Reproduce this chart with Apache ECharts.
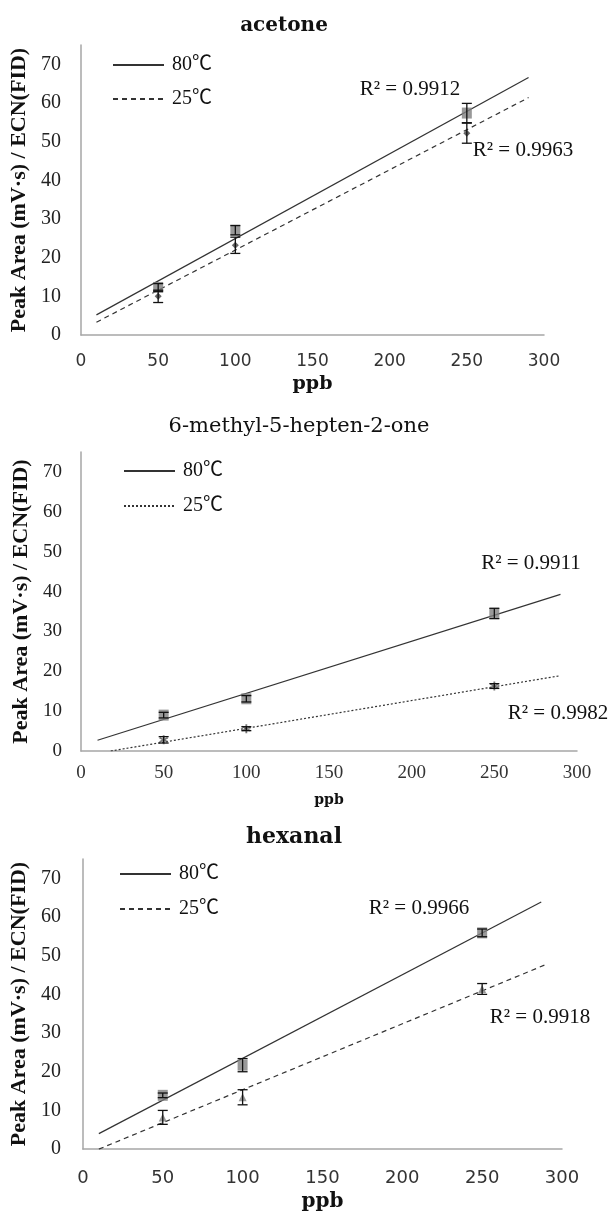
<!DOCTYPE html>
<html>
<head>
<meta charset="utf-8">
<script src="https://cdn.jsdelivr.net/npm/echarts@6/dist/echarts.min.js"></script>
<style>
    body { margin: 0; background: #fff; }
    .panel { position: absolute; left: 0; width: 612px; }
</style>
</head>
<body>
<div id="c1" class="panel" style="top:0;height:400px"></div>
<div id="c2" class="panel" style="top:400px;height:412px"></div>
<div id="c3" class="panel" style="top:812px;height:405px"></div>
<script>
// concentrations (ppb)
var ppb = [50, 100, 250];
var legend_names = ['80℃', '25℃'];

// acetone
var acetone_80 = [12.3, 27.1, 57.4];
var acetone_80_err = [1.0, 1.2, 2.5];
var acetone_25 = [10.0, 23.2, 52.2];
var acetone_25_err = [1.6, 2.1, 2.6];
var acetone_fit_80 = [[10, 5.2], [290, 66.6]];
var acetone_fit_25 = [[10, 3.3], [290, 61.4]];
var acetone_r2 = ['0.9912', '0.9963'];

// 6-methyl-5-hepten-2-one
var mho_80 = [9.0, 13.1, 34.5];
var mho_80_err = [0.7, 0.8, 1.3];
var mho_25 = [2.8, 5.6, 16.3];
var mho_25_err = [0.8, 0.5, 0.6];
var mho_fit_80 = [[10, 2.7], [290, 39.3]];
var mho_fit_25 = [[18, 0], [290, 18.9]];
var mho_r2 = ['0.9911', '0.9982'];

// hexanal
var hexanal_80 = [13.9, 21.7, 55.9];
var hexanal_80_err = [0.6, 1.7, 1.0];
var hexanal_25 = [8.2, 13.4, 41.4];
var hexanal_25_err = [1.8, 1.95, 1.4];
var hexanal_fit_80 = [[10, 4.0], [287, 63.9]];
var hexanal_fit_25 = [[10, 0], [291, 47.9]];
var hexanal_r2 = ['0.9966', '0.9918'];

var SERIF = "'Liberation Serif', 'Noto Sans CJK JP', serif";
var WIDE_SERIF = "'DejaVu Serif', 'Noto Sans CJK JP', serif";
var SANS = "'DejaVu Sans', sans-serif";
var ASTERISK = 'path://M4,0L6,0L6,3.5L9,1.8L10,3.5L7,5L10,6.5L9,8.2L6,6.5L6,10L4,10L4,6.5L1,8.2L0,6.5L3,5L0,3.5L1,1.8L4,3.5Z';

function points(xs, ys) {
    return xs.map(function (x, i) { return [x, ys[i]]; });
}
function bars(xs, ys, errs) {
    return xs.map(function (x, i) { return [x, ys[i] - errs[i], ys[i] + errs[i]]; });
}

function renderErrorBar(params, api) {
    var top = api.coord([api.value(0), api.value(2)]);
    var bottom = api.coord([api.value(0), api.value(1)]);
    var half = 5;
    var style = { stroke: '#111', lineWidth: 1.3 };
    return {
        type: 'group',
        children: [
            { type: 'line', shape: { x1: top[0], y1: top[1], x2: bottom[0], y2: bottom[1] }, style: style },
            { type: 'line', shape: { x1: top[0] - half, y1: top[1], x2: top[0] + half, y2: top[1] }, style: style },
            { type: 'line', shape: { x1: bottom[0] - half, y1: bottom[1], x2: bottom[0] + half, y2: bottom[1] }, style: style }
        ]
    };
}

function create_chart(element_id, c) {
    var chart = echarts.init(document.getElementById(element_id));
    var option = {
        animation: false,
        title: {
            text: c.title,
            left: c.titleX,
            top: c.titleY,
            textAlign: 'center',
            padding: 0,
            textStyle: {
                fontFamily: WIDE_SERIF,
                fontSize: c.titleSize,
                fontWeight: c.titleWeight,
                color: '#111'
            }
        },
        legend: {
            orient: 'vertical',
            left: c.legendX,
            top: c.legendY,
            itemWidth: 51,
            itemHeight: 14,
            itemGap: c.legendGap,
            padding: 0,
            selectedMode: false,
            data: legend_names,
            itemStyle: { opacity: 0 },
            textStyle: { fontFamily: SERIF, fontSize: 20, color: '#111', lineHeight: 18, padding: [0, 0, 0, 3] }
        },
        grid: c.grid,
        xAxis: {
            type: 'value',
            min: 0,
            max: 300,
            interval: 50,
            name: 'ppb',
            nameLocation: 'middle',
            nameGap: c.ppbGap,
            nameTextStyle: { fontFamily: WIDE_SERIF, fontWeight: 'bold', fontSize: c.ppbSize, color: '#111' },
            axisLine: { lineStyle: { color: '#a6a6a6', width: 1.5 } },
            axisTick: { show: false },
            splitLine: { show: false },
            axisLabel: { fontFamily: c.xFont, fontSize: c.xSize, color: '#333', margin: c.xMargin }
        },
        yAxis: {
            type: 'value',
            min: 0,
            max: 75,
            interval: 10,
            name: 'Peak Area (mV·s) / ECN(FID)',
            nameLocation: 'middle',
            nameGap: c.nameGap,
            nameTextStyle: { fontFamily: SERIF, fontWeight: 'bold', fontSize: 22, color: '#111' },
            axisLine: { show: true, lineStyle: { color: '#a6a6a6', width: 1.5 } },
            axisTick: { show: false },
            splitLine: { show: false },
            axisLabel: { fontFamily: SERIF, fontSize: c.ySize, color: '#222', margin: c.yMargin, showMaxLabel: false }
        },
        graphic: c.r2.map(function (t, i) {
            return {
                type: 'text',
                x: c.r2Pos[i][0],
                y: c.r2Pos[i][1],
                style: {
                    text: 'R² = ' + t,
                    fontFamily: SERIF,
                    fontSize: 21,
                    fill: '#111',
                    textAlign: 'center',
                    textVerticalAlign: 'middle'
                }
            };
        }),
        series: [
            {
                type: 'line', name: '80℃', data: c.fit80, symbol: 'none', silent: true, z: 2, color: '#333',
                lineStyle: { color: '#333', width: 1.2, type: 'solid' }
            },
            {
                type: 'line', name: '25℃', data: c.fit25, symbol: 'none', silent: true, z: 2, color: '#333',
                lineStyle: { color: '#333', width: 1.2, type: c.dash }
            },
            {
                type: 'scatter', name: '80 data', data: points(ppb, c.y80), symbol: 'rect', symbolSize: [10, 11],
                itemStyle: { color: '#7f7f7f' }, z: 3
            },
            {
                type: 'scatter', name: '25 data', data: points(ppb, c.y25), symbol: c.sym25, symbolSize: c.sym25Size,
                itemStyle: { color: c.col25 }, z: 3
            },
            {
                type: 'custom', name: '80 err', data: bars(ppb, c.y80, c.e80), renderItem: renderErrorBar,
                encode: { x: 0, y: [1, 2] }, silent: true, z: 4
            },
            {
                type: 'custom', name: '25 err', data: bars(ppb, c.y25, c.e25), renderItem: renderErrorBar,
                encode: { x: 0, y: [1, 2] }, silent: true, z: 4
            }
        ]
    };
    chart.setOption(option);
    return chart;
}

create_chart('c1', {
    title: 'acetone', titleX: 284, titleY: 16, titleSize: 20, titleWeight: 'bold',
    legendX: 112, legendY: 55, legendGap: 14,
    grid: { left: 81, right: 68, top: 45, bottom: 65 },
    ppbGap: 38, ppbSize: 19, xFont: SANS, xSize: 17, xMargin: 18,
    nameGap: 45, ySize: 20, yMargin: 20,
    fit80: acetone_fit_80, fit25: acetone_fit_25, dash: [5, 4],
    y80: acetone_80, e80: acetone_80_err, y25: acetone_25, e25: acetone_25_err,
    sym25: 'diamond', sym25Size: 7, col25: '#404040',
    r2: acetone_r2, r2Pos: [[410, 89], [523, 150]]
});

create_chart('c2', {
    title: '6-methyl-5-hepten-2-one', titleX: 299, titleY: 16, titleSize: 21, titleWeight: 'normal',
    legendX: 123, legendY: 61, legendGap: 15,
    grid: { left: 81, right: 35, top: 52, bottom: 56 },
    ppbGap: 42, ppbSize: 14, xFont: SERIF, xSize: 19, xMargin: 13,
    nameGap: 45, ySize: 19, yMargin: 19,
    fit80: mho_fit_80, fit25: mho_fit_25, dash: [2, 2],
    y80: mho_80, e80: mho_80_err, y25: mho_25, e25: mho_25_err,
    sym25: ASTERISK, sym25Size: 9, col25: '#555',
    r2: mho_r2, r2Pos: [[531, 163], [558, 313]]
});

create_chart('c3', {
    title: 'hexanal', titleX: 294, titleY: 14, titleSize: 22, titleWeight: 'bold',
    legendX: 119, legendY: 52, legendGap: 15,
    grid: { left: 82, right: 50, top: 47, bottom: 59 },
    ppbGap: 39, ppbSize: 20, xFont: SANS, xSize: 18, xMargin: 20,
    nameGap: 46, ySize: 20, yMargin: 22,
    fit80: hexanal_fit_80, fit25: hexanal_fit_25, dash: [5, 4],
    y80: hexanal_80, e80: hexanal_80_err, y25: hexanal_25, e25: hexanal_25_err,
    sym25: 'triangle', sym25Size: 8, col25: '#7f7f7f',
    r2: hexanal_r2, r2Pos: [[419, 96], [540, 205]]
});
</script>
</body>
</html>
